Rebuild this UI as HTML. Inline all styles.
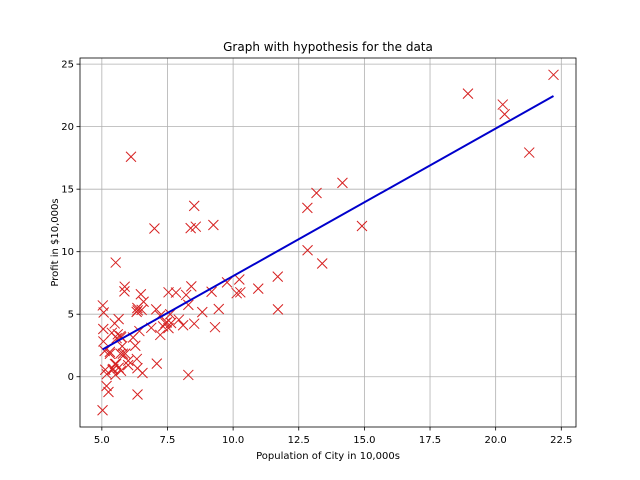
<!DOCTYPE html>
<html><head><meta charset="utf-8"><style>
body{margin:0;background:#fff;}
svg{display:block;font-family:"DejaVu Sans","Liberation Sans",sans-serif;}
</style></head><body>
<svg id="chart" width="640" height="480"></svg>
<script>
const popX=[6.1101,5.5277,8.5186,7.0032,5.8598,8.3829,7.4764,8.5781,6.4862,5.0546,5.7107,14.164,5.734,8.4084,5.6407,5.3794,6.3654,5.1301,6.4296,7.0708,6.1891,20.27,5.4901,6.3261,5.5649,18.945,12.828,10.957,13.176,22.203,5.2524,6.5894,9.2482,5.8918,8.2111,7.9334,8.0959,5.6063,12.836,6.3534,5.4069,6.8825,11.708,5.7737,7.8247,7.0931,5.0702,5.8014,11.7,5.5416,7.5402,5.3077,7.4239,7.6031,6.3328,6.3589,6.2742,5.6397,9.3102,9.4536,8.8254,5.1793,21.279,14.908,7.2182,8.2951,10.236,5.4994,20.341,10.136,7.3345,6.0062,7.2259,5.0269,6.5479,7.5386,5.0365,10.274,5.1077,5.7292,5.1884,6.3557,9.7687,6.5159,8.5172,9.1802,6.002,5.5204,5.0594,5.7077,7.6366,5.8707,5.3054,8.2934,13.394,5.4369];
const profitY=[17.592,9.1302,13.662,11.854,6.8233,11.886,4.3483,12,6.5987,3.8166,3.2522,15.505,3.1551,7.2258,0.71618,3.5129,5.3048,0.56077,3.6518,5.3893,3.1386,21.767,4.263,5.1875,3.0825,22.638,13.501,7.0467,14.692,24.147,-1.22,5.9966,12.134,1.8495,6.5426,4.5623,4.1164,3.3928,10.117,5.4974,0.55657,3.9115,5.3854,2.4406,6.7318,1.0463,5.1337,1.844,8.0043,1.0179,6.7504,1.8396,4.2885,4.9981,1.4233,-1.4211,2.4756,4.6042,3.9624,5.4141,5.1694,-0.74279,17.929,12.054,4.8852,5.7442,7.7754,1.0173,20.992,6.6799,4.0259,1.2784,3.3411,-2.6807,0.29678,3.8845,5.7014,6.7526,2.0576,0.47953,0.20421,0.67861,7.5435,5.3436,4.2415,6.7981,0.92695,0.152,2.8214,1.8451,4.2959,7.2029,1.9869,0.14454,9.0551,0.61705];
const theta=[-3.75,1.18];
const xTicks=[5.0,7.5,10.0,12.5,15.0,17.5,20.0,22.5];
const yTicks=[0,5,10,15,20,25];

const NS="http://www.w3.org/2000/svg";
const svg=document.getElementById('chart');
const L=80,R=576,T=58,B=427;
const xMin=4.168,xMax=23.06,yMin=-4.02,yMax=25.49;
const sx=v=>L+(v-xMin)/(xMax-xMin)*(R-L);
const sy=v=>B-(v-yMin)/(yMax-yMin)*(B-T);
function mk(tag,attrs,parent){const e=document.createElementNS(NS,tag);for(const k in attrs)e.setAttribute(k,attrs[k]);(parent||svg).appendChild(e);return e;}

const grid=mk('g',{});


xTicks.forEach(t=>{const x=sx(t);
 mk('line',{x1:x,x2:x,y1:T,y2:B,stroke:'#b0b0b0','stroke-width':0.8},grid);
 mk('line',{x1:x,x2:x,y1:B,y2:B+3.5,stroke:'#000','stroke-width':0.8});
 const tx=mk('text',{x:x,y:B+16,'font-size':10,'text-anchor':'middle'});tx.textContent=t.toFixed(1);
 
 
});
yTicks.forEach(t=>{const y=sy(t);
 mk('line',{x1:L,x2:R,y1:y,y2:y,stroke:'#b0b0b0','stroke-width':0.8},grid);
 mk('line',{x1:L-3.5,x2:L,y1:y,y2:y,stroke:'#000','stroke-width':0.8});
 const tx=mk('text',{x:L-6,y:y+3.5,'font-size':10,'text-anchor':'end'});tx.textContent=t;
 
 
});

const pts=mk('g',{stroke:'#d62020','stroke-width':1,fill:'none'});


const s=5;
popX.forEach((xv,i)=>{const x=sx(xv),y=sy(profitY[i]);
 const p=mk('path',{d:`M${x-s},${y-s}L${x+s},${y+s}M${x-s},${y+s}L${x+s},${y-s}`},pts);
 
 
});

const xa=Math.min(...popX),xb=Math.max(...popX);
const ln=mk('line',{x1:sx(xa),y1:sy(theta[0]+theta[1]*xa),x2:sx(xb),y2:sy(theta[0]+theta[1]*xb),stroke:'#0000cc','stroke-width':2});



const fr=mk('rect',{x:L,y:T,width:R-L,height:B-T,fill:'none',stroke:'#000','stroke-width':0.8});



const title=mk('text',{x:(L+R)/2,y:51,'font-size':12,'text-anchor':'middle'});title.textContent='Graph with hypothesis for the data';


const xl=mk('text',{x:(L+R)/2,y:459,'font-size':10,'text-anchor':'middle'});xl.textContent='Population of City in 10,000s';


const yl=mk('text',{x:0,y:0,'font-size':10,'text-anchor':'middle',transform:`translate(58,${(T+B)/2}) rotate(-90)`});yl.textContent='Profit in $10,000s';


</script>
</body></html>
